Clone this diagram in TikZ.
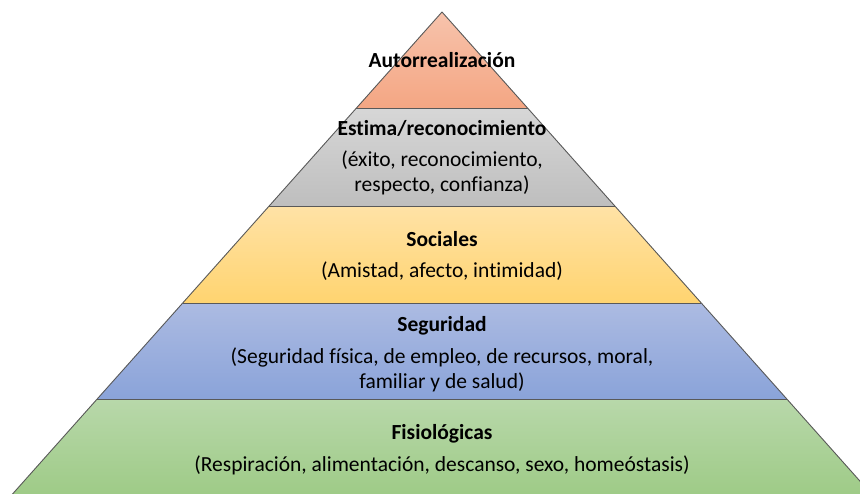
\documentclass[tikz,border=0pt]{standalone}
\usepackage{fontspec}
\setmainfont{Carlito}[Ligatures=NoCommon]
\begin{document}
\begin{tikzpicture}[x=1pt,y=-1pt,
  edge/.style={draw=black!65, line width=0.9pt, line join=round},
  head/.style={font=\fontsize{21.5}{25}\selectfont\bfseries, anchor=base, inner sep=0pt},
  body/.style={font=\fontsize{21.5}{25}\selectfont, anchor=base, inner sep=0pt}]
\definecolor{orT}{HTML}{F7C3AC}\definecolor{orB}{HTML}{F4A683}
\definecolor{grT}{HTML}{D7D7D7}\definecolor{grB}{HTML}{BEBEBE}
\definecolor{yeT}{HTML}{FFE2A6}\definecolor{yeB}{HTML}{FFD470}
\definecolor{blT}{HTML}{ACBBE2}\definecolor{blB}{HTML}{8AA3D9}
\definecolor{gnT}{HTML}{B8D8AA}\definecolor{gnB}{HTML}{9DCA85}
\useasboundingbox (0,0) rectangle (860,493);
\clip (0,0) rectangle (860,493);
% coordinates of the pyramid
\coordinate (apex) at (442,12);
\coordinate (l1) at (356.4,108) ; \coordinate (r1) at (527.6,108);
\coordinate (l2) at (269.1,206) ; \coordinate (r2) at (614.9,206);
\coordinate (l3) at (182.6,303) ; \coordinate (r3) at (701.4,303);
\coordinate (l4) at (97,399)    ; \coordinate (r4) at (787,399);
\coordinate (l5) at (7.2,500)   ; \coordinate (r5) at (876.8,500);
% bands
\shade[top color=orT, bottom color=orB] (apex) -- (r1) -- (l1) -- cycle;
\shade[top color=grT, bottom color=grB] (l1) -- (r1) -- (r2) -- (l2) -- cycle;
\shade[top color=yeT, bottom color=yeB] (l2) -- (r2) -- (r3) -- (l3) -- cycle;
\shade[top color=blT, bottom color=blB] (l3) -- (r3) -- (r4) -- (l4) -- cycle;
\shade[top color=gnT, bottom color=gnB] (l4) -- (r4) -- (r5) -- (l5) -- cycle;
% outlines
\path[edge] (l5) -- (apex) -- (r5);
\path[edge] (l1) -- (r1) (l2) -- (r2) (l3) -- (r3) (l4) -- (r4);
% texts
\node[head] (t1) at (442,67) {Autorrealización};
\node[head] (t2) at (442,135) {Estima/reconocimiento};
\node[body] (t2a) at (442,166) {(éxito, reconocimiento,};
\node[body] (t2b) at (442,191) {respecto, confianza)};
\node[head] (t3) at (442,246) {Sociales};
\node[body] (t3a) at (442,277) {(Amistad, afecto, intimidad)};
\node[head] (t4) at (442,331) {Seguridad};
\node[body] (t4a) at (442,363) {(Seguridad física, de empleo, de recursos, moral,};
\node[body] (t4b) at (442,388) {familiar y de salud)};
\node[head] (t5) at (442,439) {Fisiológicas};
\node[body] (t5a) at (442,471) {(Respiración, alimentación, descanso, sexo, homeóstasis)};
\end{tikzpicture}
\end{document}
